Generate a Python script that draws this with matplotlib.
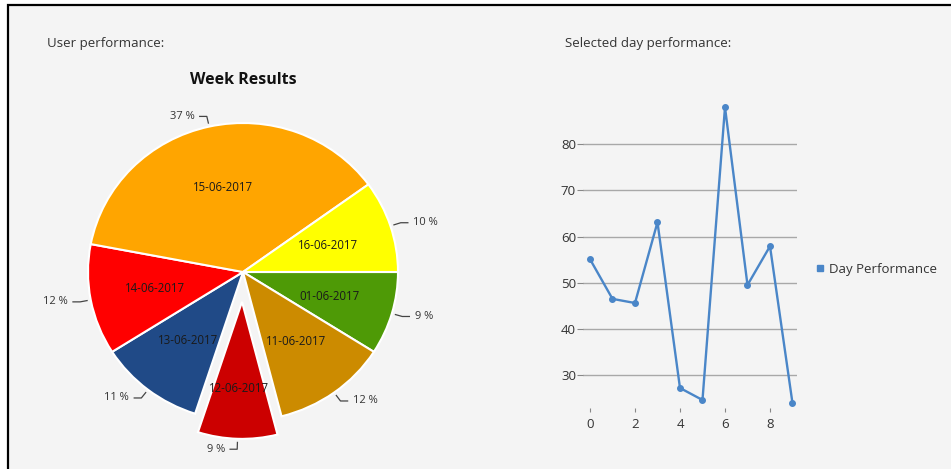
import numpy as np
import matplotlib
matplotlib.use("Agg")
import matplotlib.pyplot as plt
from matplotlib.lines import Line2D
from matplotlib.patches import Rectangle

plt.rcParams['font.family'] = ['Open Sans', 'DejaVu Sans']

# Dati
days = ["01-06-2017", "11-06-2017", "12-06-2017", "13-06-2017",
        "14-06-2017", "15-06-2017", "16-06-2017"]
week_pct = [9, 12, 9, 11, 12, 37, 10]
day_colors = ["#4e9a06", "#cc8b00", "#cc0000", "#204a87",
              "#ff0000", "#ffa500", "#ffff00"]
exploded_day = "12-06-2017"

perf_x = [0, 1, 2, 3, 4, 5, 6, 7, 8, 9]
perf_y = [55.1, 46.5, 45.6, 63.1, 27.2, 24.6, 88.0, 49.5, 57.9, 23.9]
y_ticks = [30, 40, 50, 60, 70, 80]
x_ticks = [0, 2, 4, 6, 8]

W, H = 951, 469
txt = "#333333"
fig = plt.figure(figsize=(W / 100, H / 100), dpi=100, facecolor="white")

# Pannello di sfondo con bordo
fig.add_artist(Rectangle((8 / W, -0.01), 1.0, 1 - 5 / H + 0.01, transform=fig.transFigure,
                         facecolor="#f4f4f4", edgecolor="black", linewidth=1.6, zorder=0))

fig.text(47 / W, 1 - 43 / H, "User performance:", fontsize=9.5, color=txt, va="center")
fig.text(565 / W, 1 - 43 / H, "Selected day performance:", fontsize=9.5, color=txt, va="center")
fig.text(243 / W, 1 - 80 / H, "Week Results", fontsize=11.5, fontweight="bold",
         color="#111111", ha="center", va="center")

# Torta
ax = fig.add_axes([23 / W, 7 / H, 440 / W, 380 / H])
explode = [0.2 if d == exploded_day else 0 for d in days]
wedges, _ = ax.pie(week_pct, colors=day_colors, startangle=0, counterclock=False,
                   explode=explode, radius=1,
                   wedgeprops=dict(edgecolor="white", linewidth=1.5))
for w, d in zip(wedges, days):
    if d == exploded_day:
        w.set_radius(0.92)
ax.set_aspect("auto")
ax.set_xlim(-220 / 155, 220 / 155)
ax.set_ylim(-190 / 149, 190 / 149)
ax.axis("off")

for w, d, p in zip(wedges, days, week_pct):
    th = np.deg2rad((w.theta1 + w.theta2) / 2)
    cx, cy = w.center
    r = w.r
    c, s = np.cos(th), np.sin(th)
    ax.text(cx + 0.58 * c, cy + 0.58 * s, d, fontsize=8.3, color="#1a1a1a",
            ha="center", va="center")
    x0, y0 = cx + (r + 0.02) * c, cy + (r + 0.02) * s
    x1, y1 = cx + (r + 0.07) * c, cy + (r + 0.07) * s
    sgn = 1 if c >= 0 else -1
    ax.plot([x0, x1, x1 + sgn * 0.05], [y0, y1, y1], color="#444444", lw=0.9,
            solid_capstyle="butt")
    ax.text(x1 + sgn * 0.08, y1, f"{p} %", fontsize=8, color=txt,
            ha="left" if sgn > 0 else "right", va="center")

# Linea
ax2 = fig.add_axes([583 / W, (H - 412) / H, 214 / W, 314 / H])
ax2.set_facecolor("none")
line_color = "#4a86c8"
ax2.plot(perf_x, perf_y, color=line_color, lw=1.7, marker="o", markersize=4,
         label="Day Performance")
ax2.set_xlim(-0.31, 9.2)
ax2.set_ylim(22, 90)
ax2.set_yticks(y_ticks)
ax2.set_xticks(x_ticks)
ax2.yaxis.grid(True, color="#a8a8a8", lw=1)
ax2.set_axisbelow(True)
for sp in ax2.spines.values():
    sp.set_visible(False)
ax2.tick_params(axis="y", direction="out", length=4, width=0.8, color="#888888",
                pad=1, labelsize=9.5, labelcolor=txt)
ax2.tick_params(axis="x", direction="in", length=3, width=0.8, color="#888888",
                pad=4, labelsize=9.5, labelcolor=txt)

handle = Line2D([], [], marker="s", ls="", color=line_color, markersize=4)
ax2.legend(handles=[handle], labels=["Day Performance"], frameon=False,
           loc="center left", bbox_to_anchor=(808 / W, 1 - 269 / H),
           bbox_transform=fig.transFigure, handletextpad=0.3, borderpad=0,
           handlelength=0.8, fontsize=9.5, labelcolor=txt)

fig.savefig("out.png", dpi=100, facecolor=fig.get_facecolor())
